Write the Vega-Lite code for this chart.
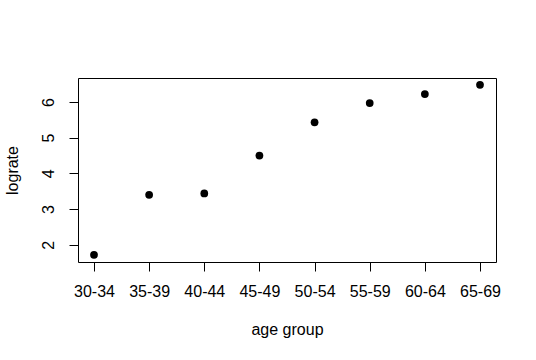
{
  "$schema": "https://vega.github.io/schema/vega-lite/v6.json",
  "width": 418,
  "height": 184,
  "autosize": {"type": "none"},
  "padding": {"left": 78, "top": 78, "right": 40, "bottom": 98},
  "background": "white",
  "config": {
    "view": {"stroke": "black", "strokeWidth": 1},
    "font": "Liberation Sans",
    "axis": {
      "grid": false,
      "domain": false,
      "tickColor": "black",
      "tickSize": 9,
      "labelFont": "Liberation Sans",
      "labelFontSize": 16,
      "labelColor": "black",
      "titleFont": "Liberation Sans",
      "titleFontSize": 16,
      "titleFontWeight": "normal",
      "titleColor": "black"
    }
  },
  "data": {
    "values": [
      {"age": "30-34", "lograte": 1.72},
      {"age": "35-39", "lograte": 3.40},
      {"age": "40-44", "lograte": 3.44},
      {"age": "45-49", "lograte": 4.50},
      {"age": "50-54", "lograte": 5.43},
      {"age": "55-59", "lograte": 5.97},
      {"age": "60-64", "lograte": 6.22},
      {"age": "65-69", "lograte": 6.48}
    ]
  },
  "mark": {"type": "point", "filled": true, "color": "black", "opacity": 1, "size": 60},
  "encoding": {
    "x": {
      "field": "age",
      "type": "ordinal",
      "scale": {"type": "point", "padding": 0.29},
      "axis": {
        "title": "age group",
        "labelAngle": 0,
        "labelPadding": 12,
        "titleY": 67,
        "titleBaseline": "middle"
      }
    },
    "y": {
      "field": "lograte",
      "type": "quantitative",
      "scale": {"domain": [1.52, 6.67], "nice": false, "zero": false},
      "axis": {
        "title": "lograte",
        "values": [2, 3, 4, 5, 6],
        "labelAngle": -90,
        "labelAlign": "center",
        "labelBaseline": "middle",
        "labelPadding": 21,
        "titleX": -66,
        "titleY": 92,
        "titleAngle": -90,
        "titleAlign": "center",
        "titleBaseline": "middle"
      }
    }
  }
}
